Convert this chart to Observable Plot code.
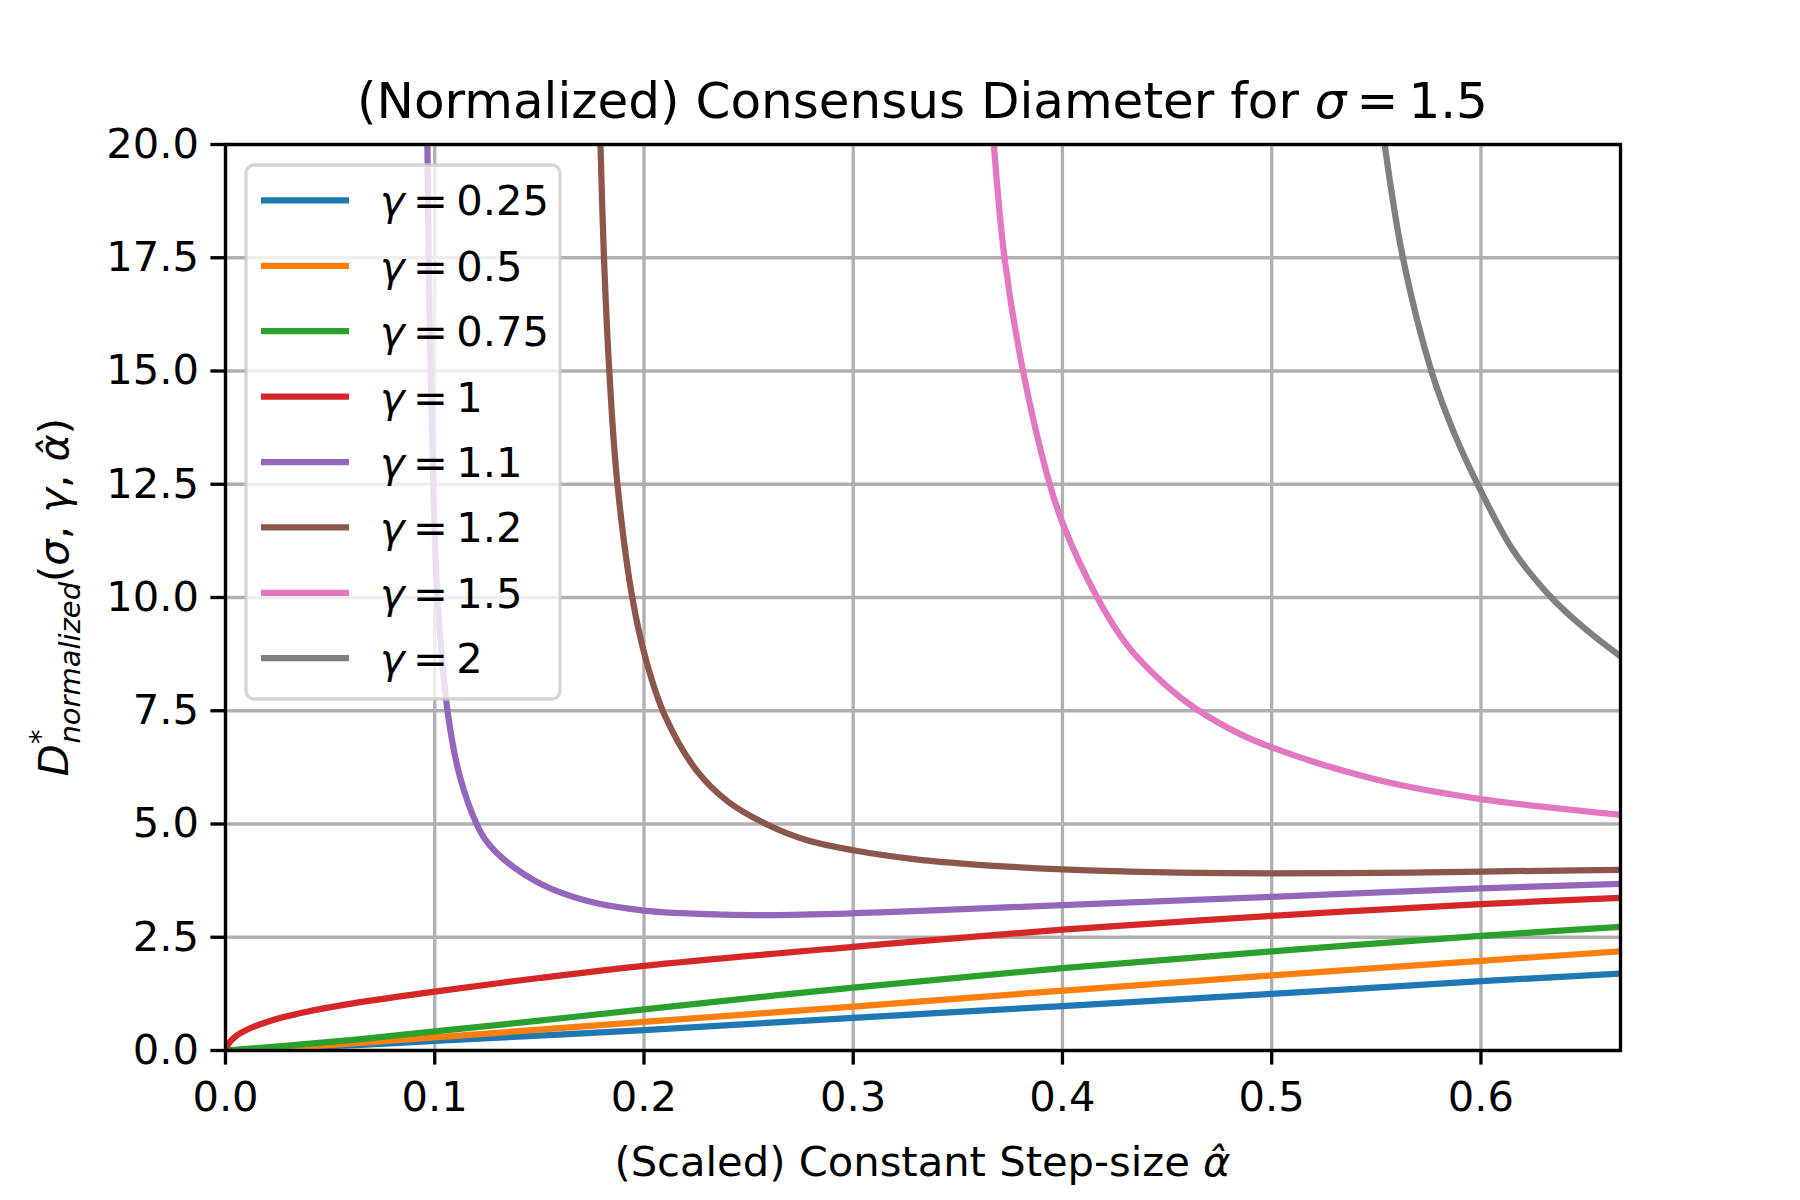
<!DOCTYPE html>
<html><head><meta charset="utf-8">
<script src="https://cdn.jsdelivr.net/npm/d3@7"></script>
<script src="https://cdn.jsdelivr.net/npm/@observablehq/plot@0.6"></script>
<style>html,body{margin:0;padding:0;background:#fff;}</style>
</head><body><div id="chart"></div>
<script>
// ---- data ----
const gammaLabels = ["0.25", "0.5", "0.75", "1", "1.1", "1.2", "1.5", "2"];
const seriesColors = ["#1f77b4", "#ff7f0e", "#2ca02c", "#d62728", "#9467bd", "#8c564b", "#e377c2", "#7f7f7f"];

const alpha_g025 = [0, 0.0623, 0.1, 0.15, 0.2, 0.3, 0.4, 0.5, 0.6, 0.6667];
const diam_g025  = [0, 0.12, 0.21, 0.33, 0.45, 0.72, 0.98, 1.25, 1.53, 1.70];

const alpha_g05 = [0, 0.03, 0.0623, 0.1, 0.15, 0.2, 0.3, 0.4, 0.5, 0.6, 0.6667];
const diam_g05  = [0, 0.06, 0.16, 0.29, 0.46, 0.63, 0.97, 1.32, 1.66, 1.98, 2.19];

const alpha_g075 = [0, 0.03, 0.0623, 0.1, 0.15, 0.2, 0.3, 0.4, 0.5, 0.6, 0.6667];
const diam_g075  = [0, 0.11, 0.24, 0.42, 0.66, 0.91, 1.39, 1.82, 2.19, 2.53, 2.73];

const alpha_g1 = [0, 0.0016, 0.0048, 0.0112, 0.0224, 0.0383, 0.0623, 0.1, 0.15, 0.2, 0.3, 0.332, 0.4, 0.5, 0.6, 0.6667];
const diam_g1  = [0, 0.16, 0.31, 0.48, 0.67, 0.85, 1.05, 1.30, 1.60, 1.87, 2.29, 2.415, 2.67, 2.97, 3.23, 3.37];

const alpha_g11 = [0.0965, 0.0971, 0.0981, 0.0994, 0.1013, 0.1064, 0.112, 0.120, 0.1247, 0.1335, 0.151, 0.173, 0.2, 0.2385, 0.26, 0.3, 0.332, 0.4, 0.5, 0.6, 0.6667];
const diam_g11  = [20, 17.5, 14.8, 12.3, 10, 7.4, 6.05, 5.0, 4.62, 4.2, 3.67, 3.30, 3.09, 3.00, 2.99, 3.03, 3.08, 3.21, 3.39, 3.58, 3.68];

const alpha_g12 = [0.1792, 0.1808, 0.1833, 0.1871, 0.1944, 0.2011, 0.2099, 0.225, 0.24, 0.2583, 0.278, 0.3, 0.33, 0.36, 0.4, 0.45, 0.5, 0.55, 0.6, 0.6667];
const diam_g12  = [20, 17.6, 15.1, 12.6, 10, 8.6, 7.4, 6.19, 5.5, 5.0, 4.64, 4.42, 4.22, 4.10, 4.0, 3.93, 3.91, 3.92, 3.95, 3.99];

const alpha_g15 = [0.3672, 0.3723, 0.3807, 0.3927, 0.4, 0.4166, 0.4309, 0.445, 0.4596, 0.48, 0.5, 0.5519, 0.6, 0.6667];
const diam_g15  = [20, 17.5, 15.1, 12.7, 11.65, 10, 8.95, 8.25, 7.68, 7.10, 6.69, 5.96, 5.55, 5.20];

const alpha_g2 = [0.554, 0.5627, 0.5763, 0.587, 0.6, 0.6153, 0.6336, 0.65, 0.6667];
const diam_g2  = [20, 17.5, 15, 13.65, 12.35, 11.05, 10.0, 9.3, 8.70];

const xTicks = [0, 0.1, 0.2, 0.3, 0.4, 0.5, 0.6];
const yTicks = [0, 2.5, 5, 7.5, 10, 12.5, 15, 17.5, 20];
const xDomain = [0, 0.6667];
const yDomain = [0, 20];

const titleText = "(Normalized) Consensus Diameter for ";
const xLabelText = "(Scaled) Constant Step-size ";

// ---- build table ----
const alphas = [alpha_g025, alpha_g05, alpha_g075, alpha_g1, alpha_g11, alpha_g12, alpha_g15, alpha_g2];
const diams  = [diam_g025, diam_g05, diam_g075, diam_g1, diam_g11, diam_g12, diam_g15, diam_g2];
const rows = [];
gammaLabels.forEach((g, i) => {
  alphas[i].forEach((a, j) => rows.push({gamma: g, alpha: a, d: diams[i][j]}));
});

const W = 1800, H = 1200;
const mL = 225, mR = 180, mT = 144, mB = 150;
const FS = 41.67;
const LW = 3.33;

const plot = Plot.plot({
  width: W, height: H,
  marginLeft: mL, marginRight: mR, marginTop: mT, marginBottom: mB,
  style: {fontSize: FS + "px", fontFamily: "DejaVu Sans", background: "white", color: "black", overflow: "visible"},
  x: {domain: xDomain},
  y: {domain: yDomain},
  color: {domain: gammaLabels, range: seriesColors},
  marks: [
    Plot.gridX({ticks: xTicks, stroke: "#b0b0b0", strokeOpacity: 1, strokeWidth: LW}),
    Plot.gridY({ticks: yTicks, stroke: "#b0b0b0", strokeOpacity: 1, strokeWidth: LW}),
    Plot.line(rows, {x: "alpha", y: "d", z: "gamma", stroke: "gamma", strokeWidth: 6.25, curve: "catmull-rom", clip: true, strokeLinejoin: "round"}),
    Plot.frame({stroke: "black", strokeWidth: LW}),
    Plot.axisX({ticks: xTicks, tickFormat: d3.format(".1f"), tickSize: 14.6, tickPadding: 16, strokeWidth: LW, label: null, fontSize: FS}),
    Plot.axisY({ticks: yTicks, tickFormat: d3.format(".1f"), tickSize: 14.6, tickPadding: 12, strokeWidth: LW, label: null, fontSize: FS})
  ]
});
document.getElementById("chart").appendChild(plot);

const svg = d3.select(plot);
const cx = mL + (W - mL - mR) / 2;

// title
const t = svg.append("text").attr("x", cx).attr("y", 118).attr("text-anchor", "middle")
  .style("font-size", "50px").style("font-family", "DejaVu Sans").attr("fill", "black");
t.append("tspan").text(titleText);
t.append("tspan").attr("font-style", "italic").text("σ");
t.append("tspan").text("\u2009=\u20091.5");

// x label
const xl = svg.append("text").attr("x", cx).attr("y", 1176).attr("text-anchor", "middle")
  .style("font-size", FS + "px").style("font-family", "DejaVu Sans").attr("fill", "black");
xl.append("tspan").text(xLabelText);
xl.append("tspan").attr("font-style", "italic").text("α\u0302");

// y label
const yl = svg.append("text").attr("transform", `translate(68,${(mT + H - mB) / 2}) rotate(-90)`)
  .attr("text-anchor", "middle").style("font-size", FS + "px").style("font-family", "DejaVu Sans").attr("fill", "black");
yl.append("tspan").attr("font-style", "italic").text("D");
yl.append("tspan").attr("font-size", "29px").attr("dy", -18).text("*");
yl.append("tspan").attr("font-size", "29px").attr("font-style", "italic").attr("dx", -14).attr("dy", 30).text("normalized");
yl.append("tspan").attr("dy", -12).text("(");
yl.append("tspan").attr("font-style", "italic").text("σ");
yl.append("tspan").text(", ");
yl.append("tspan").attr("font-style", "italic").text("γ");
yl.append("tspan").text(", ");
yl.append("tspan").attr("font-style", "italic").text("α\u0302");
yl.append("tspan").text(")");

// legend
const lg = svg.append("g");
lg.append("rect").attr("x", 246).attr("y", 165).attr("width", 314).attr("height", 534)
  .attr("rx", 8).attr("ry", 8).attr("fill", "white").attr("fill-opacity", 0.8)
  .attr("stroke", "#cccccc").attr("stroke-opacity", 0.8).attr("stroke-width", LW);
gammaLabels.forEach((g, i) => {
  const yy = 200.4 + i * 65.4;
  lg.append("line").attr("x1", 261).attr("x2", 349).attr("y1", yy).attr("y2", yy)
    .attr("stroke", seriesColors[i]).attr("stroke-width", 6.25);
  const tx = lg.append("text").attr("x", 380).attr("y", yy).attr("dy", "0.36em")
    .attr("text-anchor", "start")
    .style("font-size", FS + "px").style("font-family", "DejaVu Sans").attr("fill", "black");
  tx.append("tspan").attr("font-style", "italic").text("γ");
  tx.append("tspan").text("\u2009=\u2009" + g);
});
</script>
</body></html>
